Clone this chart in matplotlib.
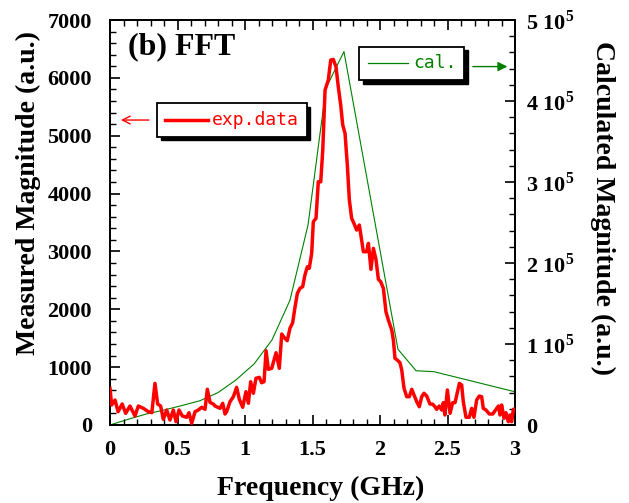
import matplotlib
matplotlib.use('Agg')
import matplotlib.pyplot as plt
from matplotlib.patches import Rectangle
from matplotlib.ticker import MultipleLocator, FuncFormatter

plt.rcParams['font.family'] = ['Liberation Serif', 'DejaVu Serif']
plt.rcParams['font.weight'] = 'bold'
plt.rcParams['mathtext.fontset'] = 'custom'
plt.rcParams['mathtext.rm'] = 'Liberation Serif:bold'
plt.rcParams['mathtext.bf'] = 'Liberation Serif:bold'

# measured FFT spectrum (red)
exp_freq = [0.000, 0.012, 0.037, 0.060, 0.090, 0.116, 0.148, 0.185, 0.210, 0.247,
            0.284, 0.310, 0.333, 0.353, 0.375, 0.395, 0.420, 0.444, 0.469, 0.489,
            0.511, 0.536, 0.568, 0.585, 0.605, 0.630, 0.654, 0.679, 0.704, 0.721,
            0.741, 0.765, 0.778, 0.815, 0.835, 0.852, 0.864, 0.889, 0.914, 0.938,
            0.958, 0.983, 1.007, 1.025, 1.042, 1.062, 1.081, 1.106, 1.123, 1.141,
            1.156, 1.173, 1.198, 1.230, 1.254, 1.272, 1.289, 1.313, 1.333, 1.353,
            1.370, 1.388, 1.407, 1.427, 1.444, 1.462, 1.476, 1.494, 1.506, 1.526,
            1.543, 1.561, 1.576, 1.593, 1.617, 1.635, 1.654, 1.674, 1.691, 1.709,
            1.724, 1.741, 1.758, 1.773, 1.790, 1.807, 1.827, 1.847, 1.864, 1.877,
            1.901, 1.914, 1.933, 1.951, 1.970, 1.988, 2.005, 2.025, 2.044, 2.062,
            2.087, 2.099, 2.111, 2.128, 2.148, 2.161, 2.178, 2.198, 2.217, 2.235,
            2.252, 2.272, 2.291, 2.309, 2.326, 2.346, 2.370, 2.390, 2.407, 2.420,
            2.439, 2.457, 2.469, 2.481, 2.499, 2.519, 2.538, 2.556, 2.588, 2.605,
            2.617, 2.637, 2.661, 2.679, 2.696, 2.716, 2.736, 2.753, 2.765, 2.785,
            2.810, 2.835, 2.852, 2.877, 2.889, 2.901, 2.919, 2.933, 2.951, 2.963,
            2.975, 2.988, 3.000]
exp_mag = [634, 346, 432, 230, 363, 202, 328, 156, 328, 288,
           230, 213, 720, 363, 328, 98, 259, 86, 259, 57,
           259, 156, 133, 213, 29, 230, 259, 306, 271, 617,
           390, 363, 328, 288, 375, 190, 230, 403, 490, 651,
           444, 306, 576, 375, 748, 548, 807, 824, 731, 748,
           1284, 962, 980, 1249, 980, 1572, 1515, 1457, 1671, 1768,
           2030, 2276, 2362, 2390, 2592, 2735, 2708, 2967, 3513, 3572,
           4204, 4204, 4752, 5789, 5962, 6307, 6319, 6192, 5846, 5530,
           5184, 5041, 4493, 3888, 3572, 3485, 3370, 3456, 3197, 2995,
           2995, 3140, 2690, 3053, 2863, 2518, 2477, 2362, 1958, 1814,
           1642, 1469, 1152, 1123, 1077, 950, 634, 489, 489, 617,
           518, 403, 316, 489, 548, 501, 363, 360, 316, 271,
           328, 259, 386, 173, 605, 202, 386, 386, 720, 691,
           403, 133, 133, 288, 133, 432, 501, 489, 288, 259,
           190, 190, 247, 328, 173, 346, 116, 213, 57, 173,
           57, 271, 271]

# calculated spectrum (green), right axis
cal_freq = [0.0, 0.133, 0.267, 0.4, 0.533, 0.667, 0.8, 0.933, 1.067, 1.2,
            1.333, 1.467, 1.6, 1.733, 2.133, 2.267, 2.4, 3.0]
cal_mag = [0.0, 0.07e5, 0.135e5, 0.185e5, 0.24e5, 0.30e5, 0.40e5, 0.556e5, 0.753e5, 1.05e5,
           1.54e5, 2.47e5, 4.16e5, 4.61e5, 0.935e5, 0.67e5, 0.658e5, 0.41e5]

fig = plt.figure(figsize=(6.29, 5.03), dpi=100)
ax = fig.add_axes([110/629, 78/503, 405/629, 405/503])
ax2 = ax.twinx()

ax.plot(exp_freq, exp_mag, color='red', lw=2.5, zorder=3)
ax2.plot(cal_freq, cal_mag, color='green', lw=0.8)
ax.set_zorder(ax2.get_zorder() + 1)
ax.patch.set_visible(False)

ax.set_xlim(0, 3)
ax.set_ylim(0, 7000)
ax2.set_ylim(0, 5e5)

ax.xaxis.set_major_locator(MultipleLocator(0.5))
ax.xaxis.set_minor_locator(MultipleLocator(0.1))
ax.yaxis.set_major_locator(MultipleLocator(1000))
ax.yaxis.set_minor_locator(MultipleLocator(200))
ax2.yaxis.set_major_locator(MultipleLocator(1e5))
ax2.yaxis.set_minor_locator(MultipleLocator(2e4))

ax.xaxis.set_major_formatter(FuncFormatter(lambda v, p: '%g' % v))
ax2.yaxis.set_major_formatter(FuncFormatter(
    lambda v, p: '0' if v == 0 else r'%d 10$^{\mathregular{5}}$' % round(v / 1e5)))

ax.tick_params(axis='x', which='both', direction='in', top=True, labelsize=16, pad=11)
ax.tick_params(axis='y', which='both', direction='in', right=False, labelsize=16, pad=13)
ax2.tick_params(axis='y', which='both', direction='in', labelsize=16, pad=8)
for a in (ax, ax2):
    a.tick_params(which='major', length=7, width=1.2)
    a.tick_params(which='minor', length=4, width=1.0)
    for s in a.spines.values():
        s.set_linewidth(1.3)

fig.text(321/629, 1 - 488/503, 'Frequency (GHz)', ha='center', va='center',
         fontsize=20, fontweight='bold')
fig.text(28/629, 1 - 193/503, 'Measured Magnitude (a.u.)', ha='center', va='center',
         rotation=90, fontsize=20, fontweight='bold')
fig.text(603/629, 1 - 208/503, 'Calculated Magnitude (a.u.)', ha='center', va='center',
         rotation=270, fontsize=20, fontweight='bold')

ax.text(0.045, 0.935, '(b) FFT', transform=ax.transAxes, ha='left', va='center',
        fontsize=23, fontweight='bold')


def legend_box(x0, y0, x1, y1):
    sh = 0.009
    ax.add_patch(Rectangle((x0 + sh, y0 - sh), x1 - x0, y1 - y0, transform=ax.transAxes,
                           facecolor='black', edgecolor='black', zorder=5, clip_on=False))
    ax.add_patch(Rectangle((x0, y0), x1 - x0, y1 - y0, transform=ax.transAxes,
                           facecolor='white', edgecolor='black', lw=1.3, zorder=6,
                           clip_on=False))


legend_box(0.1168, 0.7118, 0.4857, 0.7943)
ax.plot([0.1358, 0.242], [0.753, 0.753], transform=ax.transAxes, color='red', lw=2.5, zorder=7)
ax.text(0.252, 0.753, 'exp.data', transform=ax.transAxes, color='red', ha='left',
        va='center', fontsize=13, family='DejaVu Sans Mono', fontweight='normal', zorder=7)
ax.annotate('', xy=(0.02, 0.753), xytext=(0.103, 0.753), xycoords='axes fraction',
            arrowprops=dict(arrowstyle='->', color='red', lw=1.0, mutation_scale=14), zorder=7)

legend_box(0.6156, 0.852, 0.874, 0.934)
ax.plot([0.638, 0.737], [0.893, 0.893], transform=ax.transAxes, color='green', lw=0.9, zorder=7)
ax.text(0.748, 0.893, 'cal.', transform=ax.transAxes, color='green', ha='left',
        va='center', fontsize=13, family='DejaVu Sans Mono', fontweight='normal', zorder=7)
ax.annotate('', xy=(0.988, 0.885), xytext=(0.889, 0.885), xycoords='axes fraction',
            arrowprops=dict(arrowstyle='-|>', color='green', lw=1.0, mutation_scale=14), zorder=7)

fig.savefig('out.png', dpi=100)
